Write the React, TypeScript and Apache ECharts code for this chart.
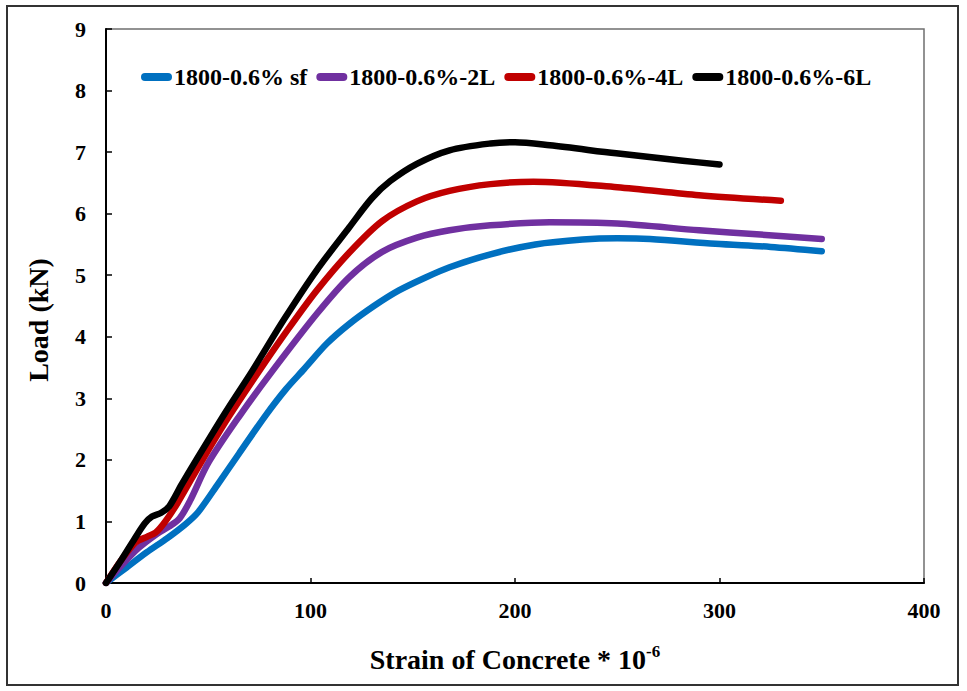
import React, { useEffect, useRef } from "react";
import * as echarts from "echarts";

const seriesNames = ["1800-0.6% sf", "1800-0.6%-2L", "1800-0.6%-4L", "1800-0.6%-6L"];
const seriesColors = ["#0070C0", "#7030A0", "#C00000", "#000000"];

const sfData: number[][] = [
  [0, 0], [10, 0.25], [20, 0.5], [30, 0.73], [39, 0.96], [45, 1.15], [55, 1.62], [65, 2.1],
  [78, 2.72], [88, 3.15], [97, 3.48], [108, 3.89], [119, 4.21], [131, 4.5], [143, 4.75],
  [156, 4.96], [168, 5.13], [188, 5.34], [210, 5.5], [233, 5.58], [250, 5.6], [266, 5.59],
  [298, 5.51], [325, 5.46], [350, 5.39],
];
const l2Data: number[][] = [
  [0, 0], [8, 0.3], [16, 0.57], [25, 0.8], [31, 0.92], [36, 1.05], [41, 1.33], [50, 1.95],
  [65, 2.7], [81.5, 3.45], [103, 4.37], [119, 4.97], [135, 5.38], [152, 5.61], [168, 5.73],
  [188, 5.81], [217, 5.86], [250, 5.84], [290, 5.73], [320, 5.66], [350, 5.59],
];
const l4Data: number[][] = [
  [0, 0], [7, 0.35], [14.5, 0.66], [20, 0.75], [24.3, 0.82], [29, 1.0], [35, 1.3], [47, 1.99],
  [60, 2.7], [75, 3.45], [89, 4.12], [103, 4.75], [119, 5.37], [135, 5.88], [152, 6.2],
  [168, 6.37], [188, 6.48], [209, 6.52], [250, 6.43], [290, 6.3], [330, 6.21],
];
const l6Data: number[][] = [
  [0, 0], [7, 0.35], [14, 0.72], [19, 0.97], [22.5, 1.08], [27, 1.14], [31, 1.25], [37, 1.6],
  [44, 1.99], [58, 2.75], [71.6, 3.45], [87, 4.28], [103, 5.08], [119, 5.78], [130, 6.25],
  [139, 6.53], [152, 6.81], [168, 7.03], [188, 7.14], [200, 7.16], [217, 7.11], [249.5, 6.98],
  [282, 6.86], [300, 6.8],
];
const allData = [sfData, l2Data, l4Data, l6Data];

const xTitle = "Strain of Concrete * 10";
const xTitleSup = "-6";
const yTitle = "Load (kN)";

const FONT = "'Liberation Serif', 'Times New Roman', serif";

export default function App() {
  const ref = useRef<HTMLDivElement>(null);
  useEffect(() => {
    if (!ref.current) return;
    const chart = echarts.init(ref.current, null, { renderer: "svg" });
    chart.setOption({
      animation: false,
      backgroundColor: "#ffffff",
      textStyle: { fontFamily: FONT },
      grid: {
        left: 106,
        right: 43,
        top: 29,
        bottom: 108,
        show: true,
        borderColor: "#6f6f6f",
        borderWidth: 1.5,
        backgroundColor: "transparent",
      },
      legend: {
        data: seriesNames,
        left: 136,
        top: 60,
        itemWidth: 31,
        itemHeight: 8,
        itemGap: 9,
        icon: "path://M4,0 L27,0 A4,4 0 0 1 27,8 L4,8 A4,4 0 0 1 4,0 Z",
        textStyle: { fontFamily: FONT, fontWeight: "bold", fontSize: 24, color: "#000", padding: [0, 0, 0, -3] },
      },
      xAxis: {
        type: "value",
        min: 0,
        max: 400,
        interval: 100,
        name: `{a|${xTitle}}{b|${xTitleSup}}`,
        nameLocation: "middle",
        nameGap: 60,
        nameTextStyle: {
          rich: {
            a: { fontFamily: FONT, fontWeight: "bold", fontSize: 28, color: "#000", lineHeight: 32 },
            b: { fontFamily: FONT, fontWeight: "bold", fontSize: 17, color: "#000", verticalAlign: "top", lineHeight: 32, padding: [0, 0, 14, 0] },
          },
        },
        axisLine: { show: true, onZero: false, lineStyle: { color: "#000", width: 2 } },
        axisTick: { show: true, inside: true, length: 5, lineStyle: { color: "#000", width: 1.5 } },
        axisLabel: { color: "#000", fontFamily: FONT, fontWeight: "bold", fontSize: 22, margin: 16 },
        splitLine: { show: false },
      },
      yAxis: {
        type: "value",
        min: 0,
        max: 9,
        interval: 1,
        axisLine: { show: true, onZero: false, lineStyle: { color: "#000", width: 2 } },
        axisTick: { show: true, inside: true, length: 6, lineStyle: { color: "#000", width: 1.5 } },
        axisLabel: { color: "#000", fontFamily: FONT, fontWeight: "bold", fontSize: 22, margin: 20 },
        splitLine: { show: false },
      },
      graphic: [
        {
          type: "rect",
          shape: { x: 7, y: 6, width: 951, height: 679 },
          style: { fill: "none", stroke: "#333", lineWidth: 2 },
          silent: true,
        },
        {
          type: "text",
          x: 38,
          y: 320,
          rotation: Math.PI / 2,
          style: {
            text: yTitle,
            fontFamily: FONT,
            fontWeight: "bold",
            fontSize: 28,
            fill: "#000",
            align: "center",
            verticalAlign: "middle",
          },
        },
      ],
      series: allData.map((d, i) => ({
        name: seriesNames[i],
        type: "line",
        data: d,
        smooth: 0.3,
        showSymbol: false,
        symbol: "none",
        color: seriesColors[i],
        lineStyle: { color: seriesColors[i], width: 6.5, cap: "round", join: "round" },
        z: 2 + i,
      })),
    });
    return () => chart.dispose();
  }, []);
  return (
    <div
      ref={ref}
      style={{ position: "absolute", left: 0, top: 0, width: 967, height: 691 }}
    />
  );
}
